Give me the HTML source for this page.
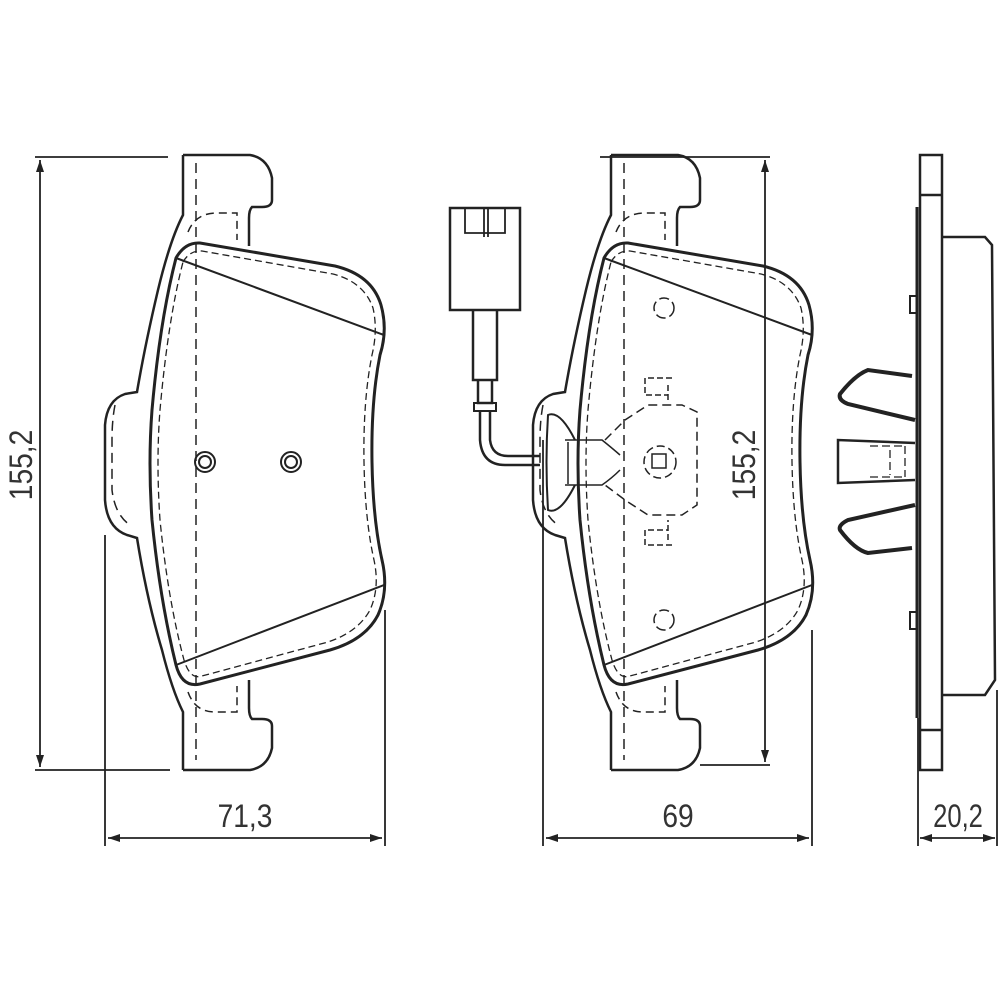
<!DOCTYPE html>
<html><head><meta charset="utf-8"><style>html,body{margin:0;padding:0;background:#fff}svg{display:block}</style></head>
<body>
<svg width="1000" height="1000" viewBox="0 0 1000 1000" xmlns="http://www.w3.org/2000/svg">
<defs>
<marker id="a" viewBox="0 0 12 8" refX="12" refY="4" markerWidth="12" markerHeight="8" orient="auto-start-reverse" markerUnits="userSpaceOnUse"><path d="M0,0 L12,4 L0,8 z" fill="#222"/></marker>
<g id="pad" fill="none" stroke="#222">
  <!-- backing plate -->
  <path stroke-width="2.5" d="M183,155 L250,155 Q268,158 272,178 L272,200 Q272,207 262,207 L252,207 Q249,210 249,218 L249,246"/>
  <path stroke-width="2.5" d="M183,770 L250,770 Q268,767 272,748 L272,726 Q272,719 262,719 L252,719 Q249,716 249,708 L249,680"/>
  <path stroke-width="2.5" d="M183,155 L183,215 Q170,240 158,290 Q145,345 137,392 L125,394 Q107,400 105,425 L105,500 Q107,528 127,535 L137,538 Q147,600 162,650 Q172,690 183,712 L183,770"/>
  <!-- friction block -->
  <path stroke-width="3" d="M176,258 Q185,242 200,243 L335,266 Q372,275 381,305 Q388,330 380,355 Q371,400 372,462 Q373,520 382,560 Q389,590 378,615 Q365,640 330,650 L200,684 Q182,688 176,665 Q160,600 152,520 Q148,462 152,410 Q160,320 176,258 z"/>
  <path stroke-width="1.3" d="M183,262 Q190,250 202,251 L333,274 Q364,282 373,308 Q378,330 372,355 Q363,400 364,462 Q365,520 374,560 Q380,588 370,610 Q358,632 328,642 L202,676 Q190,680 184,660 Q168,600 160,520 Q156,462 160,410 Q168,320 183,262 z" stroke-dasharray="7,4"/>
  <path stroke-width="1.5" d="M196,163 L196,760" stroke-dasharray="10,6"/>
  <path stroke-width="1.5" d="M115,405 Q112,420 112,440 L112,490 Q115,515 130,525" stroke-dasharray="10,6"/>
  <path stroke-width="1.5" d="M188,232 Q195,214 215,213 L237,213 L237,240" stroke-dasharray="8,5"/>
  <path stroke-width="1.5" d="M188,692 Q195,712 215,712 L237,712 L237,686" stroke-dasharray="8,5"/>
  <path stroke-width="2" d="M176,258 L384,335 M176,665 L384,585"/>
</g>
</defs>

<use href="#pad"/>
<g fill="none" stroke="#222" stroke-width="2">
  <circle cx="205" cy="462" r="10"/><circle cx="205" cy="462" r="6"/>
  <circle cx="291" cy="462" r="10"/><circle cx="291" cy="462" r="6"/>
</g>
<use href="#pad" transform="translate(428,0)"/>

<!-- middle pad details -->
<g fill="none" stroke="#222" stroke-width="1.5">
  <path d="M575,440 Q560,410 548,415 Q545,462 548,510 Q560,515 575,485" stroke-width="2"/>
  <path d="M565,440 L602,440 Q612,448 620,455 M565,485 L602,485 Q612,478 620,470 M568,442 L568,484"/>
  <path d="M605,440 L625,420 L648,405 L682,405 L697,412 L697,505 L682,515 L648,515 L625,500 L605,485" stroke-dasharray="9,5"/>
  <path d="M645,378 L645,395 L668,395 M648,378 L672,378 M668,385 L668,400" stroke-dasharray="6,3"/>
  <path d="M645,545 L645,530 L668,530 M648,545 L672,545 M668,540 L668,520" stroke-dasharray="6,3"/>
  <circle cx="660" cy="462" r="16" stroke-dasharray="8,4"/>
  <rect x="652" y="454" width="14" height="14"/>
  <circle cx="664" cy="308" r="10" stroke-dasharray="10,4"/>
  <circle cx="664" cy="620" r="10" stroke-dasharray="10,4"/>
</g>

<!-- sensor -->
<g fill="none" stroke="#222" stroke-width="2.5">
  <rect x="450" y="208" width="70" height="102"/>
  <path d="M465,208 L465,233 L505,233 L505,208 M484,208 L484,237 M488,208 L488,237" stroke-width="1.8"/>
  <path d="M473,310 L473,380 L497,380 L497,310"/>
  <path d="M478,380 L478,403 L492,403 L492,380"/>
  <path d="M474,403 L496,403 L496,411 L474,411 z" stroke-width="2"/>
  <path d="M480,411 L480,440 Q482,465 505,465 L540,465 M490,411 L490,440 Q492,456 508,456 L540,456"/>
</g>

<!-- side view -->
<g fill="none" stroke="#222" stroke-width="2.5">
  <rect x="920" y="155" width="22" height="615"/>
  <path d="M920,195 L942,195 M920,730 L942,730"/>
  <path d="M942,237 L985,237 L992,245 L995,680 L985,695 L942,695"/>
  <path d="M917,207 L917,718" stroke-width="3"/>
  <rect x="910" y="296" width="7" height="17" stroke-width="2"/>
  <rect x="910" y="612" width="7" height="17" stroke-width="2"/>
  <path d="M912,376 L868,370 Q855,375 840,394 Q838,400 848,404 L915,420" stroke-width="4"/>
  <path d="M912,548 L868,553 Q855,550 840,530 Q838,525 848,520 L915,505" stroke-width="4"/>
  <path d="M915,443 L838,440 L838,483 L915,480" stroke-width="2.5"/>
  <path d="M870,446 L905,446 M870,477 L905,477 M890,450 L890,475 M905,446 L905,477" stroke-width="1.3" stroke-dasharray="8,4"/>
</g>

<!-- dimensions -->
<g fill="none" stroke="#222" stroke-width="1.8">
  <path d="M35,157 L168,157 M35,770 L170,770"/>
  <path d="M40,160 L40,767" marker-start="url(#a)" marker-end="url(#a)"/>
  <path d="M600,157 L770,157 M700,765 L770,765"/>
  <path d="M765,160 L765,762" marker-start="url(#a)" marker-end="url(#a)"/>
  <path d="M105,535 L105,846 M385,610 L385,846"/>
  <path d="M108,838 L382,838" marker-start="url(#a)" marker-end="url(#a)"/>
  <path d="M543,440 L543,846 M812,630 L812,846"/>
  <path d="M546,838 L809,838" marker-start="url(#a)" marker-end="url(#a)"/>
  <path d="M918,718 L918,846 M997,690 L997,846"/>
  <path d="M920,838 L995,838" marker-start="url(#a)" marker-end="url(#a)"/>
</g>
<g font-family="'Liberation Sans', sans-serif" font-size="32" fill="#333" text-anchor="middle">
  <text transform="translate(32,465) rotate(-90) scale(0.88,1)">155,2</text>
  <text transform="translate(755,465) rotate(-90) scale(0.88,1)">155,2</text>
  <text transform="translate(245,827) scale(0.88,1)">71,3</text>
  <text transform="translate(678,827) scale(0.88,1)">69</text>
  <text transform="translate(958,827) scale(0.8,1)">20,2</text>
</g>
</svg>
</body></html>
